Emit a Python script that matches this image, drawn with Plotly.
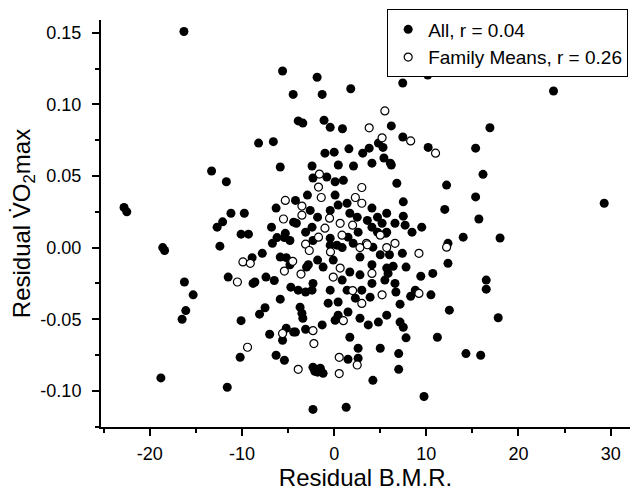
import plotly.graph_objects as go

# Filled points: All individuals (Residual B.M.R., Residual VO2max)
all_x = [
    -16.3, -22.8, -22.5, -18.6, -18.4, -18.8, -16.25, -15.3, -16.1, -16.5,
    -12.4, -11.6, -13.3, -11.7, -12.7, -12.1, -11.2, -9.75, -10.1, -9.3,
    -8.2, -6.6, -5.85, -5.6, -4.45, -3.9, -3.4, -1.85, -1.3, -6.3,
    -6.8, -6.2, -5.4, -4.1, -6.7,
    10.15, 7.44, 1.8, 23.8, 29.3, 16.9, 15.35, 16.15, 12.2, 15.35,
    12.0, 15.7, 14.0, 18.0, 6.8, 7.5, 6.2, 7.45, 10.2, 5.3,
    0.9, 3.8, 1.6, 3.1, 0.0, 6.1, 4.1, 2.1, -1.1, -0.43,
    4.8, -1.0, 0.45, 5.4, -2.4, -2.3, -0.8, 0.1, 1.0, 4.1,
    -4.2, -2.9, -2.6, -4.4, -1.8, -0.43, 0.43, 0.1, 1.4, 1.7,
    2.5, 3.6, 4.1, 4.7, 5.2, -2.4, -3.1, -5.3, -4.8, -2.3,
    -0.43, 1.5, 2.6, 0.3, 2.06, 4.2, 5.7, 5.7, 4.7, 6.2,
    7.5, 6.6, 7.7, 9.5, 8.45, 5.6, 12.35,
    -7.8, -8.9, -5.85, -5.2, -11.5, -8.8, -8.6, -7.4, -6.5, -5.85,
    -7.5, -8.1, -10.1, -7.0, -5.6, -5.2, -10.2, -6.3, -5.4, -3.1,
    -4.4, -2.3, -2.1, -2.3, -4.7, -4.8, -3.0, -2.3,
    -2.8, -1.8, -1.2, -0.1, -0.43, 0.87, 2.8, 1.7, 2.8, 4.1,
    5.0, 5.7, 5.5, 4.1, 3.0, 2.3, 3.9, 1.4, 0.87, -0.43,
    -0.65, 0.43, 0.43, 0.1, 1.5, 2.8, 3.7, 4.8, 5.7, -3.9,
    -3.1, -2.4, -3.7, -3.5, -3.4, -1.3, -4.2, 1.7, 2.6, 5.0,
    1.5, 2.6, -1.5, -1.2, -1.8, 4.2, 1.3,
    7.4, 12.35, 16.5, 16.5, 6.0, 6.4, 5.85, 7.8, 9.4, 10.7,
    6.6, 6.7, 8.3, 8.8, 10.5, 7.15, 12.5, 7.15, 7.5, 7.8,
    11.2, 7.0, 14.3, 15.9, 7.0, 9.75, 17.8,
]
all_y = [
    0.151, 0.028, 0.025, 0.0, -0.002, -0.091, -0.024, -0.033, -0.044, -0.050,
    0.001, -0.0975, 0.0535, 0.046, 0.0143, 0.018, 0.024, 0.024, 0.0094, 0.0094,
    0.073, 0.074, 0.0563, 0.1234, 0.107, 0.0885, 0.087, 0.119, 0.107, 0.0276,
    0.0143, 0.007, 0.007, 0.017, 0.003,
    0.1205, 0.115, 0.111, 0.1094, 0.031, 0.0837, 0.0695, 0.0512, 0.0437, 0.0354,
    0.0267, 0.020, 0.0073, 0.0067, 0.045, 0.032, 0.085, 0.0773, 0.070, 0.070,
    0.083, 0.0695, 0.069, 0.066, 0.0667, 0.059, 0.059, 0.057, 0.089, 0.084,
    0.073, 0.066, 0.0577, 0.0626, 0.057, 0.0486, 0.0493, 0.046, 0.047, 0.0276,
    0.033, 0.0367, 0.026, 0.0178, 0.0213, 0.026, 0.0297, 0.0367, 0.031, 0.024,
    0.0213, 0.019, 0.0143, 0.0108, 0.017, 0.0143, 0.0108, 0.010, 0.005, 0.005,
    0.0066, 0.0073, 0.0108, 0.0017, 0.003, 0.0003, 0.0108, 0.024, 0.0213, 0.0577,
    0.022, 0.017, 0.0157, 0.0143, 0.0108, 0.010, 0.003,
    -0.004, -0.007, -0.0066, -0.007, -0.0206, -0.025, -0.024, -0.0206, -0.023, -0.036,
    -0.042, -0.0465, -0.051, -0.0605, -0.0647, -0.0563, -0.0766, -0.0752, -0.0787, -0.057,
    -0.059, -0.0836, -0.0864, -0.113, -0.0276, -0.012, -0.0136, -0.025,
    -0.012, -0.0087, -0.0136, -0.0087, 0.0017, 0.0, -0.0066, -0.017, -0.019, -0.012,
    -0.005, -0.0143, -0.0227, -0.025, -0.0297, -0.0353, -0.0346, -0.0297, -0.0227, -0.0297,
    -0.0388, -0.038, -0.0472, -0.0507, -0.045, -0.0493, -0.054, -0.052, -0.0472, -0.0297,
    -0.031, -0.0297, -0.0416, -0.0458, -0.0493, -0.054, -0.059, -0.0626, -0.0703, -0.0703,
    -0.078, -0.0773, -0.0843, -0.0878, -0.087, -0.0927, -0.1115,
    -0.004, -0.011, -0.0227, -0.029, -0.005, -0.013, -0.018, -0.0136, -0.02, -0.018,
    -0.025, -0.031, -0.034, -0.0297, -0.033, -0.0395, -0.0437, -0.052, -0.0556, -0.063,
    -0.0626, -0.074, -0.074, -0.0752, -0.085, -0.104, -0.049,
]

# Open points: family means
fam_x = [
    -5.3, -5.5, 5.5, 3.8, 8.3, 11.0, 5.2, -1.6, -1.7, 3.0,
    2.3, 3.0, -1.4, -3.5, -3.5, -0.5, 0.65, 2.0, -1.0, -1.7,
    0.85, 3.5, -3.1, 5.0, 12.2, 6.6, -9.9, -9.1, -5.4, -10.5,
    -5.6, -9.4, -2.3, -2.2, -3.9, -3.6, -4.5, -0.4, -2.7, 2.8,
    3.6, -0.1, 0.65, 4.1, 5.2, 3.0, 2.0, 1.0, 0.55, 2.5,
    0.55, 9.2, 5.7, 9.2,
]
fam_y = [
    0.033, 0.020, 0.0955, 0.0837, 0.0745, 0.066, 0.0767, 0.0514, 0.0423, 0.042,
    0.035, 0.031, 0.035, 0.029, 0.0227, 0.0206, 0.017, 0.0157, 0.0136, 0.0073,
    0.0087, 0.003, 0.0024, 0.0087, 0.0003, 0.003, -0.010, -0.011, -0.0164, -0.024,
    -0.060, -0.0696, -0.058, -0.067, -0.085, -0.0185, -0.0096, -0.003, -0.002, 0.0,
    0.002, -0.0206, -0.0143, -0.018, -0.033, -0.039, -0.030, -0.051, -0.0766, -0.082,
    -0.088, -0.004, 0.0, -0.032,
]

x_tickvals = [-20, -10, 0, 10, 20, 30]
x_ticktext = ["-20", "-10", "0", "10", "20", "30"]
x_minor = [-25, -15, -5, 5, 15, 25]
y_tickvals = [-0.10, -0.05, 0.00, 0.05, 0.10, 0.15]
y_ticktext = ["-0.10", "-0.05", "0.00", "0.05", "0.10", "0.15"]
y_minor = [-0.125, -0.075, -0.025, 0.025, 0.075, 0.125]

font = "Liberation Sans, Arial, sans-serif"

fig = go.Figure()
fig.add_trace(go.Scatter(
    x=all_x, y=all_y, mode="markers", name="All, r = 0.04",
    marker=dict(color="black", size=9, line=dict(width=0)),
))
fig.add_trace(go.Scatter(
    x=fam_x, y=fam_y, mode="markers", name="Family Means, r = 0.26",
    marker=dict(color="white", size=8, line=dict(color="black", width=1.2)),
))

fig.update_layout(
    width=639, height=493,
    margin=dict(l=101, r=9, t=20, b=66, autoexpand=False),
    paper_bgcolor="white", plot_bgcolor="white",
    font=dict(family=font, color="black", size=18),
    showlegend=True,
    legend=dict(
        x=0.541, y=1.0258, xanchor="left", yanchor="top",
        bordercolor="black", borderwidth=1, bgcolor="white",
        font=dict(size=19, family=font), itemwidth=30,
    ),
    xaxis=dict(
        range=[-25.3, 32.1], showgrid=False, zeroline=False, automargin=False,
        showline=True, linecolor="black", linewidth=2,
        ticks="outside", ticklen=7, tickwidth=2, tickcolor="black",
        tickmode="array", tickvals=x_tickvals, ticktext=x_ticktext,
        minor=dict(tickmode="array", tickvals=x_minor, ticks="outside",
                   ticklen=4, tickwidth=2, tickcolor="black", showgrid=False),
        tickfont=dict(size=18), ticklabelstandoff=2,
        title=dict(text="Residual B.M.R.", font=dict(size=24), standoff=6),
    ),
    yaxis=dict(
        range=[-0.1253, 0.159], showgrid=False, zeroline=False, automargin=False,
        showline=True, linecolor="black", linewidth=2,
        ticks="outside", ticklen=7, tickwidth=2, tickcolor="black",
        tickmode="array", tickvals=y_tickvals, ticktext=y_ticktext,
        minor=dict(tickmode="array", tickvals=y_minor, ticks="outside",
                   ticklen=4, tickwidth=2, tickcolor="black", showgrid=False),
        tickfont=dict(size=18), ticklabelstandoff=7,
        title=dict(text="Residual V\u0307O<sub>2</sub>max", font=dict(size=24), standoff=3),
    ),
)

fig.write_html(
    "out.html",
    config={"displayModeBar": False},
    post_script="document.body.style.margin='0';document.body.style.overflow='hidden';",
)
